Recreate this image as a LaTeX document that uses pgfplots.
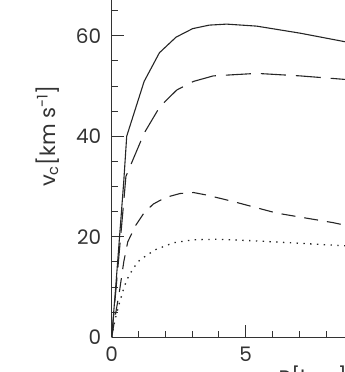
\documentclass[border=0pt]{standalone}
\usepackage{pgfplots}
\pgfplotsset{compat=1.18}
\usepackage{fontspec}
\setmainfont{Poppins}
\begin{document}
\begin{tikzpicture}
\begin{axis}[
  x=26.8pt, y=5.027pt,
  xmin=0, xmax=15, ymin=0, ymax=80,
  axis x line*=bottom, axis y line*=left,
  axis line style={line width=0.9pt, draw=black!80},
  xtick={0,5}, ytick={0,20,40,60},
  minor xtick={1,2,3,4,6,7,8,9,11,12,13,14},
  minor ytick={5,10,15,25,30,35,45,50,55,65,70,75},
  tick align=inside,
  major tick length=12pt, minor tick length=6pt,
  every tick/.style={line width=0.8pt, draw=black!80},
  /pgf/number format/assume math mode=true,
  tick label style={font=\fontsize{20}{22}\selectfont, text=black!80},
  xticklabel style={yshift=-6pt},
  yticklabel style={xshift=-7pt},
  xlabel={R[kpc]}, ylabel={v\textsubscript{c}[km s\textsuperscript{-1}]},
  label style={font=\fontsize{21}{23}\selectfont, text=black!80},
  xlabel style={yshift=2pt},
  ylabel style={yshift=10pt},
  clip=true,
]
\coordinate (O) at (axis cs:0,0);
\addplot[line width=1.1pt, black!85] coordinates {
 (0,0) (0.15,10) (0.3,20.5) (0.45,31) (0.56,40) (1.21,50.9) (1.78,56.6) (2.4,59.7)
 (3.02,61.4) (3.64,62.1) (4.29,62.3) (5.41,61.9) (7.03,60.5) (8.7,58.8) (9.5,58.1)};
\addplot[line width=1.1pt, black!85, dash pattern=on 25pt off 10pt] coordinates {
 (0,0) (0.15,9) (0.3,18) (0.45,27) (0.53,32) (1.21,40.6) (1.8,45.9) (2.43,49.2)
 (3.05,50.9) (3.79,52) (5.41,52.5) (7.03,52) (8.7,51.3) (9.5,50.9)};
\addplot[line width=1.1pt, black!85, dash pattern=on 14pt off 9pt] coordinates {
 (0,0) (0.15,4.8) (0.3,9.5) (0.45,15) (0.6,19) (0.9,22.3) (1.2,24.7) (1.55,26.5) (2,27.8)
 (2.55,28.6) (3.05,28.8) (3.54,28.3) (4.54,27) (6.16,24.7) (8.27,22.8) (8.7,22.3) (9.5,21.6)};
\addplot[line width=1.3pt, black!85, dash pattern=on 1.4pt off 5.4pt] coordinates {
 (0,0) (0.12,3.4) (0.25,6.1) (0.43,9.4) (0.56,11.4) (0.8,13.7) (1.05,15.4) (1.62,17.4)
 (2.3,18.8) (3.05,19.4) (3.92,19.5) (5.29,19.2) (7.03,18.7) (8.7,18.2) (9.5,18)};
\end{axis}
\pgfresetboundingbox
\useasboundingbox ([shift={(-111.7pt,-34.7pt)}]O) rectangle ([shift={(233.3pt,337.3pt)}]O);
\end{tikzpicture}
\end{document}
